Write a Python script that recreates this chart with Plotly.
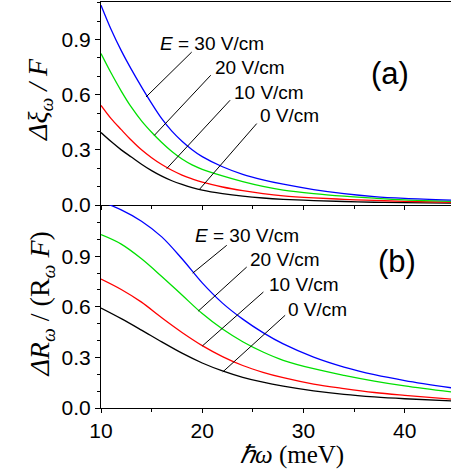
import plotly.graph_objects as go
from plotly.subplots import make_subplots

# ---- data: panel (a)  Δξ_ω / F ----
x_a = [10, 11, 12, 13, 14, 15, 16, 17, 18, 19, 20, 22, 24, 26, 28, 31, 34, 37, 40, 44.6]
a_0 = [0.394, 0.345, 0.300, 0.261, 0.222, 0.187, 0.157, 0.132, 0.112, 0.095, 0.081, 0.062, 0.048, 0.038, 0.031, 0.024, 0.019, 0.015, 0.013, 0.010]
a_10 = [0.542, 0.470, 0.410, 0.352, 0.300, 0.257, 0.220, 0.189, 0.163, 0.142, 0.124, 0.098, 0.078, 0.062, 0.050, 0.039, 0.031, 0.025, 0.020, 0.015]
a_20 = [0.824, 0.718, 0.620, 0.532, 0.458, 0.396, 0.340, 0.291, 0.250, 0.218, 0.194, 0.158, 0.127, 0.101, 0.081, 0.062, 0.048, 0.037, 0.028, 0.020]
a_30 = [1.087, 0.955, 0.840, 0.738, 0.643, 0.553, 0.470, 0.402, 0.347, 0.301, 0.263, 0.208, 0.167, 0.137, 0.113, 0.084, 0.062, 0.046, 0.036, 0.026]

# ---- data: panel (b)  ΔR_ω / (R_ω F) ----
x_b = [10, 12, 14, 16, 18, 20, 22, 24, 26, 28, 31, 34, 37, 40, 44.6]
b_0 = [0.593, 0.530, 0.462, 0.392, 0.325, 0.267, 0.220, 0.182, 0.153, 0.130, 0.102, 0.081, 0.066, 0.055, 0.042]
b_10 = [0.765, 0.703, 0.628, 0.535, 0.448, 0.370, 0.305, 0.252, 0.212, 0.180, 0.142, 0.115, 0.092, 0.075, 0.052]
b_20 = [1.028, 0.972, 0.885, 0.780, 0.670, 0.560, 0.468, 0.393, 0.332, 0.283, 0.233, 0.194, 0.160, 0.131, 0.095]
b_30 = [1.225, 1.175, 1.108, 1.015, 0.885, 0.742, 0.622, 0.527, 0.447, 0.380, 0.302, 0.243, 0.198, 0.163, 0.120]

series_labels = ["0 V/cm", "10 V/cm", "20 V/cm", "<i>E</i> = 30 V/cm"]
colors = ["#000000", "#ff0000", "#00e000", "#0000ff"]
y_ticks = [0.0, 0.3, 0.6, 0.9]
x_ticks = [10, 20, 30, 40]

fig = make_subplots(rows=2, cols=1, shared_xaxes=True, vertical_spacing=0)

for ys, c in zip([a_0, a_10, a_20, a_30], colors):
    fig.add_trace(go.Scatter(x=x_a, y=ys, mode="lines",
                             line=dict(color=c, width=1.3, shape="spline", smoothing=1.0),
                             showlegend=False), row=1, col=1)
for ys, c in zip([b_0, b_10, b_20, b_30], colors):
    fig.add_trace(go.Scatter(x=x_b, y=ys, mode="lines",
                             line=dict(color=c, width=1.3, shape="spline", smoothing=1.0),
                             showlegend=False), row=2, col=1)

tickfont = dict(family="Liberation Sans, Arial, sans-serif", size=21, color="black")
labfont = dict(family="Liberation Sans, Arial, sans-serif", size=19, color="black")
serif_y = dict(family="Liberation Serif, Times New Roman, serif", size=28, color="black")
serif_x = dict(family="Liberation Serif, Times New Roman, serif", size=25, color="black")

xcommon = dict(range=[10, 44.57], showline=True, linecolor="black", linewidth=1,
               ticks="outside", ticklen=4, tickcolor="black", tickvals=x_ticks,
               minor=dict(tickvals=[15, 25, 35], ticks="outside", ticklen=3, tickcolor="black"),
               showgrid=False, zeroline=False, tickfont=tickfont)
fig.update_xaxes(**xcommon)
fig.update_xaxes(showticklabels=False, mirror=True, row=1, col=1)
fig.update_xaxes(showticklabels=True, row=2, col=1)

ycommon = dict(showline=True, linecolor="black", linewidth=1, ticks="outside", ticklen=5,
               tickcolor="black", tickvals=y_ticks, tickformat=".1f",
               showgrid=False, zeroline=False, tickfont=tickfont)
fig.update_yaxes(**ycommon)
fig.update_yaxes(range=[0, 1.1045],
                 minor=dict(tickvals=[0.1, 0.2, 0.4, 0.5, 0.7, 0.8, 1.0, 1.1], ticks="outside", ticklen=3, tickcolor="black"),
                 row=1, col=1)
fig.update_yaxes(range=[0, 1.204],
                 minor=dict(tickvals=[0.1, 0.2, 0.4, 0.5, 0.7, 0.8, 1.0, 1.1, 1.2], ticks="outside", ticklen=3, tickcolor="black"),
                 row=2, col=1)

# label positions and leader lines
lab_a = [(25.51, 0.488), (22.94, 0.613), (21.07, 0.749), (15.63, 0.88)]
lines_a = [((19.71, 0.084), (25.38, 0.443)), ((16.49, 0.198), (22.75, 0.570)),
           ((15.27, 0.379), (20.84, 0.706)), ((14.45, 0.588), (18.96, 0.832))]
lab_b = [(28.28, 0.585), (26.4, 0.734), (24.53, 0.882), (19.09, 1.024)]
lines_b = [((22.03, 0.214), (28.19, 0.55)), ((20.01, 0.368), (26.04, 0.688)),
           ((19.61, 0.575), (24.39, 0.836)), ((19.06, 0.800), (22.42, 0.965))]

for (lx, ly), txt in zip(lab_a, series_labels):
    fig.add_annotation(x=lx, y=ly, xref="x", yref="y", text=txt, showarrow=False,
                       xanchor="left", yanchor="middle", font=labfont)
for (p0, p1) in lines_a:
    fig.add_shape(type="line", xref="x", yref="y", x0=p0[0], y0=p0[1], x1=p1[0], y1=p1[1],
                  line=dict(color="black", width=1))
for (lx, ly), txt in zip(lab_b, series_labels):
    fig.add_annotation(x=lx, y=ly, xref="x2", yref="y2", text=txt, showarrow=False,
                       xanchor="left", yanchor="middle", font=labfont)
for (p0, p1) in lines_b:
    fig.add_shape(type="line", xref="x2", yref="y2", x0=p0[0], y0=p0[1], x1=p1[0], y1=p1[1],
                  line=dict(color="black", width=1))

fig.add_annotation(x=38.56, y=0.717, xref="x", yref="y", text="(a)", showarrow=False,
                   font=dict(family="Liberation Sans, Arial, sans-serif", size=31, color="black"))
fig.add_annotation(x=39.25, y=0.87, xref="x2", yref="y2", text="(b)", showarrow=False,
                   font=dict(family="Liberation Sans, Arial, sans-serif", size=31, color="black"))

# axis titles
fig.add_annotation(x=-0.174, y=0.759, xref="paper", yref="paper", textangle=-90, showarrow=False,
                   text="<i>Δξ</i><sub><i>ω</i></sub><i> / F</i>", font=serif_y,
                   xanchor="center", yanchor="middle")
fig.add_annotation(x=-0.17, y=0.256, xref="paper", yref="paper", textangle=-90, showarrow=False,
                   text="<i>ΔR</i><sub><i>ω</i></sub> / (R<sub><i>ω</i></sub> <i>F</i>)", font=serif_y,
                   xanchor="center", yanchor="middle")
fig.add_annotation(x=0.546, y=-0.116, xref="paper", yref="paper", showarrow=False,
                   text="<i>ℏω</i> (meV)", font=serif_x, xanchor="center", yanchor="middle")

fig.update_layout(width=451, height=474, margin=dict(l=101, r=0, t=2, b=66),
                  plot_bgcolor="white", paper_bgcolor="white", showlegend=False)

fig.write_html("out.html", config={"displayModeBar": False},
               post_script="document.body.style.margin='0px';")
